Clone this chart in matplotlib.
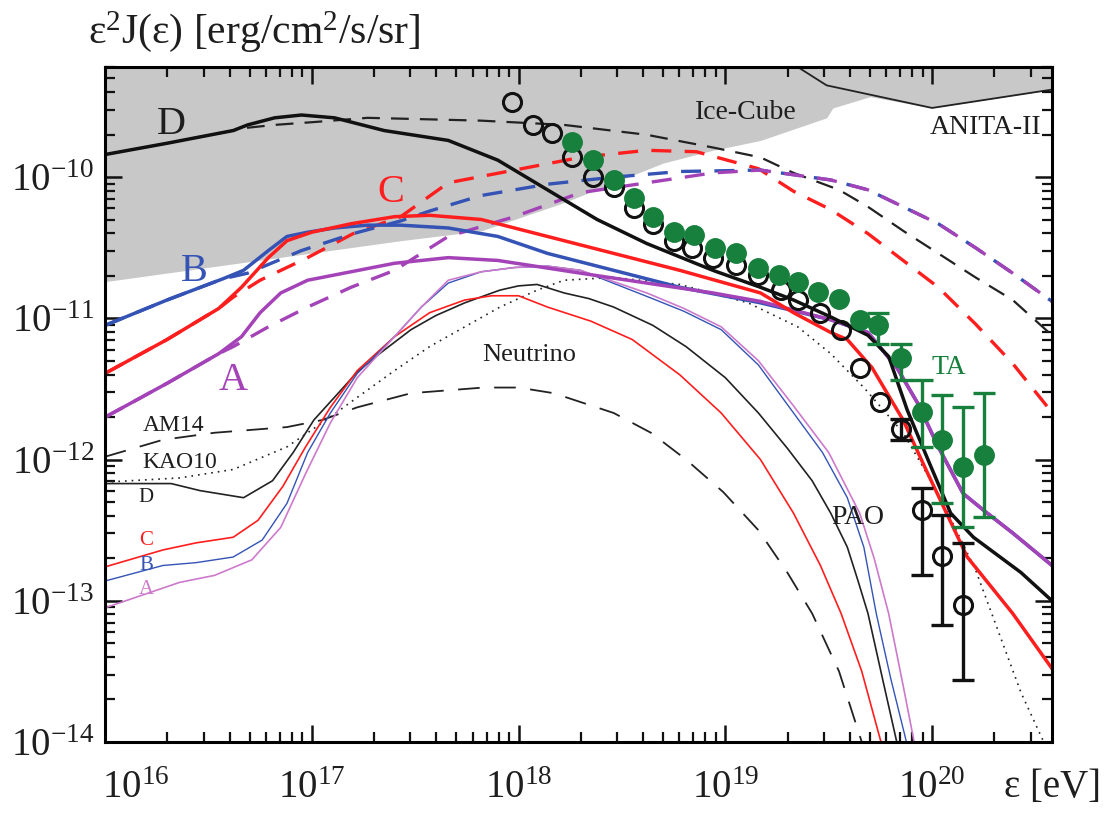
import numpy as np
import matplotlib
matplotlib.use("Agg")
import matplotlib.pyplot as plt
from matplotlib.ticker import LogLocator, NullFormatter, FuncFormatter, FixedLocator

plt.rcParams['font.family'] = ['Liberation Serif', 'DejaVu Serif']
plt.rcParams['mathtext.fontset'] = 'custom'
plt.rcParams['mathtext.rm'] = 'Liberation Serif'
plt.rcParams['mathtext.it'] = 'Liberation Serif:italic'

# ---- data: log10(energy / eV), log10(flux / erg cm^-2 s^-1 sr^-1) ----
# cosmic-ray spectra (thick solid)
d_lgE = [16.00, 16.30, 16.62, 16.69, 16.82, 16.95, 17.11, 17.35, 17.66, 17.90, 18.06,
         18.22, 18.38, 18.62, 18.94, 19.17, 19.33, 19.51, 19.69, 19.79, 19.88, 19.98,
         20.09, 20.20, 20.43, 20.58]
d_lgF = [-9.84, -9.76, -9.67, -9.63, -9.58, -9.56, -9.58, -9.67, -9.74, -9.88, -10.02,
         -10.16, -10.30, -10.47, -10.66, -10.78, -10.87, -10.99, -11.12, -11.27, -11.65, -12.00,
         -12.38, -12.55, -12.80, -13.00]
c_lgE = [16.00, 16.30, 16.55, 16.66, 16.79, 16.88, 17.00, 17.19, 17.40, 17.57, 17.82,
         18.14, 18.46, 18.78, 19.17, 19.33, 19.51, 19.59, 19.71, 19.86, 19.97, 20.07,
         20.17, 20.39, 20.58]
c_lgF = [-11.39, -11.15, -10.93, -10.78, -10.57, -10.45, -10.39, -10.33, -10.28, -10.27, -10.30,
         -10.42, -10.54, -10.66, -10.82, -10.96, -11.10, -11.15, -11.35, -11.72, -12.07, -12.38,
         -12.69, -13.09, -13.48]
b_lgE = [16.00, 16.30, 16.57, 16.67, 16.79, 16.88, 16.98, 17.11, 17.27, 17.43, 17.66,
         17.90, 18.14, 18.46, 18.78, 19.17, 19.51, 19.69, 19.83, 19.93, 20.03, 20.15,
         20.25, 20.39, 20.58]
b_lgF = [-11.05, -10.87, -10.72, -10.66, -10.52, -10.42, -10.39, -10.36, -10.34, -10.34, -10.36,
         -10.42, -10.54, -10.66, -10.78, -10.89, -11.01, -11.10, -11.35, -11.60, -11.91, -12.24,
         -12.36, -12.52, -12.75]
a_lgE = [16.00, 16.30, 16.55, 16.66, 16.75, 16.85, 16.98, 17.19, 17.40, 17.66, 17.90,
         18.30, 18.62, 18.94, 19.17, 19.51, 19.69, 19.83, 19.93, 20.03, 20.15, 20.25,
         20.39, 20.58]
a_lgF = [-11.70, -11.46, -11.25, -11.13, -10.96, -10.82, -10.73, -10.67, -10.61, -10.57, -10.59,
         -10.68, -10.75, -10.82, -10.88, -11.01, -11.10, -11.35, -11.60, -11.91, -12.24, -12.36,
         -12.52, -12.75]

# cosmogenic neutrinos, upper (thick dashed)
dd_lgE = [16.00, 16.30, 16.62, 16.69, 16.82, 17.01, 17.27, 17.82, 18.22, 18.62, 18.94,
          19.17, 19.33, 19.55, 19.69, 19.86, 20.03, 20.21, 20.39, 20.58]
dd_lgF = [-9.84, -9.76, -9.67, -9.65, -9.63, -9.61, -9.58, -9.60, -9.63, -9.70, -9.79,
          -9.86, -9.97, -10.09, -10.21, -10.38, -10.54, -10.71, -10.87, -11.12]
cd_lgE = [16.00, 16.30, 16.55, 16.62, 16.75, 16.98, 17.20, 17.43, 17.66, 17.98, 18.30,
          18.62, 18.86, 19.16, 19.33, 19.51, 19.69, 19.86, 20.03, 20.21, 20.39, 20.56]
cd_lgF = [-11.39, -11.15, -10.93, -10.85, -10.73, -10.57, -10.40, -10.28, -10.04, -9.95, -9.86,
          -9.81, -9.82, -9.94, -10.10, -10.23, -10.40, -10.59, -10.78, -11.04, -11.32, -11.63]
bd_lgE = [16.00, 16.30, 16.57, 16.69, 16.95, 17.20, 17.43, 17.57, 17.82, 18.14, 18.46,
          18.78, 19.17, 19.51, 19.69, 19.86, 20.03, 20.21, 20.39, 20.58]
bd_lgF = [-11.05, -10.87, -10.72, -10.68, -10.52, -10.40, -10.31, -10.24, -10.13, -10.05, -10.00,
          -9.96, -9.95, -10.02, -10.09, -10.21, -10.33, -10.50, -10.68, -10.88]
ad_lgE = [16.00, 16.30, 16.55, 16.62, 16.79, 16.98, 17.19, 17.40, 17.66, 17.98, 18.30,
          18.62, 18.94, 19.17, 19.51, 19.69, 19.86, 20.03, 20.21, 20.39, 20.58]
ad_lgF = [-11.70, -11.46, -11.25, -11.20, -11.06, -10.92, -10.78, -10.66, -10.42, -10.28, -10.11,
          -10.04, -9.97, -9.95, -10.02, -10.09, -10.21, -10.33, -10.50, -10.68, -10.88]

# neutrino spectra (thin solid)
dn_lgE = [16.00, 16.32, 16.46, 16.67, 16.81, 16.91, 17.01, 17.14, 17.22, 17.31, 17.48, 17.60,
          17.74, 17.91, 18.00, 18.09, 18.22, 18.34, 18.46, 18.65, 18.81, 19.00, 19.16, 19.30,
          19.42, 19.51, 19.59, 19.64, 19.69, 19.76, 19.86]
dn_lgF = [-12.17, -12.17, -12.22, -12.27, -12.15, -11.95, -11.72, -11.51, -11.38, -11.27, -11.08, -10.98,
          -10.89, -10.80, -10.77, -10.76, -10.82, -10.86, -10.92, -11.05, -11.20, -11.42, -11.67, -11.92,
          -12.15, -12.38, -12.62, -12.85, -13.09, -13.55, -14.20]
cn_lgE = [16.00, 16.28, 16.44, 16.62, 16.74, 16.86, 16.97, 17.09, 17.22, 17.40, 17.57,
          17.74, 17.87, 18.00, 18.14, 18.35, 18.55, 18.78, 18.98, 19.17, 19.33, 19.46,
          19.56, 19.66, 19.79]
cn_lgF = [-12.76, -12.64, -12.59, -12.55, -12.43, -12.19, -11.91, -11.63, -11.37, -11.13, -10.96,
          -10.87, -10.84, -10.84, -10.92, -11.02, -11.15, -11.40, -11.67, -12.00, -12.38, -12.75,
          -13.09, -13.50, -14.20]
bn_lgE = [16.00, 16.28, 16.44, 16.62, 16.76, 16.88, 16.98, 17.09, 17.22, 17.40, 17.53,
          17.66, 17.82, 17.98, 18.14, 18.30, 18.63, 18.80, 18.98, 19.16, 19.33, 19.47,
          19.59, 19.67, 19.73, 19.80, 19.91]
bn_lgF = [-12.86, -12.75, -12.73, -12.69, -12.57, -12.31, -11.95, -11.67, -11.39, -11.13, -10.92,
          -10.75, -10.67, -10.64, -10.63, -10.66, -10.85, -10.95, -11.08, -11.33, -11.67, -11.95,
          -12.27, -12.62, -13.09, -13.55, -14.20]
an_lgE = [16.00, 16.22, 16.36, 16.53, 16.71, 16.85, 16.97, 17.09, 17.22, 17.40, 17.53,
          17.66, 17.82, 17.98, 18.14, 18.30, 18.62, 18.80, 18.98, 19.16, 19.33, 19.50,
          19.65, 19.72, 19.79, 19.86, 19.94]
an_lgF = [-13.05, -12.94, -12.87, -12.82, -12.71, -12.48, -12.10, -11.74, -11.42, -11.13, -10.92,
          -10.73, -10.67, -10.64, -10.63, -10.66, -10.82, -10.93, -11.06, -11.30, -11.62, -11.95,
          -12.38, -12.70, -13.09, -13.60, -14.20]

# other neutrino models
am14_lgE = [16.00, 16.28, 16.53, 16.88, 17.05, 17.22, 17.48, 17.83, 18.00, 18.17, 18.46,
            18.64, 18.81, 18.99, 19.16, 19.30, 19.42, 19.55, 19.66, 19.70]
am14_lgF = [-11.98, -11.86, -11.81, -11.77, -11.72, -11.63, -11.53, -11.49, -11.49, -11.53, -11.67,
            -11.81, -12.00, -12.23, -12.50, -12.80, -13.09, -13.50, -14.00, -14.20]
kao_lgE = [16.00, 16.36, 16.62, 16.88, 17.05, 17.22, 17.40, 17.57, 17.74, 17.91, 18.09,
           18.22, 18.46, 18.78, 19.11, 19.35, 19.51, 19.67, 19.86, 20.03, 20.21, 20.43, 20.54, 20.57]
kao_lgF = [-12.16, -12.13, -12.07, -11.91, -11.74, -11.56, -11.37, -11.20, -11.06, -10.92, -10.80,
           -10.73, -10.71, -10.76, -10.89, -11.06, -11.25, -11.49, -11.81, -12.24, -12.78, -13.65,
           -14.00, -14.20]

# experimental limits
ice_lgE = [16.00, 17.43, 17.82, 18.22, 18.46, 18.70, 18.94, 19.17, 19.49, 19.52, 19.70]
ice_lgF = [-10.74, -10.45, -10.38, -10.18, -10.04, -9.90, -9.81, -9.74, -9.58, -9.51, -9.43]
anita_lgE = [19.35, 19.49, 20.00, 20.58]
anita_lgF = [-9.22, -9.35, -9.51, -9.38]

# measured UHECR spectra
pao_lgE = [17.97, 18.07, 18.16, 18.26, 18.36, 18.46, 18.56, 18.65, 18.75, 18.84, 18.94,
           19.05, 19.16, 19.27, 19.35, 19.46, 19.56, 19.65, 19.75, 19.85, 19.95, 20.05, 20.15]
pao_lgF = [-9.47, -9.63, -9.69, -9.86, -10.00, -10.07, -10.22, -10.33, -10.45, -10.50, -10.57,
           -10.62, -10.69, -10.80, -10.87, -10.96, -11.08, -11.35, -11.59, -11.78, -12.36, -12.68, -13.03]
pao_hi = [-11.71, -12.20, -12.39, -12.59]
pao_lo = [-11.86, -12.82, -13.17, -13.56]

ta_lgE = [18.26, 18.36, 18.46, 18.56, 18.65, 18.75, 18.85, 18.95, 19.05, 19.16, 19.26,
          19.35, 19.45, 19.55, 19.65, 19.74, 19.85, 19.95, 20.05, 20.15, 20.25]
ta_lgF = [-9.75, -9.88, -10.02, -10.15, -10.28, -10.39, -10.41, -10.50, -10.54, -10.64, -10.69,
          -10.74, -10.81, -10.86, -11.01, -11.05, -11.28, -11.66, -11.86, -12.05, -11.97]
ta_hi = [-10.96, -11.18, -11.44, -11.54, -11.63, -11.53]
ta_lo = [-11.18, -11.44, -11.91, -12.31, -12.48, -12.41]

x_decades = [16, 17, 18, 19, 20]
y_decades = [-14, -13, -12, -11, -10]

RED = '#ff1e1e'
BLUE = '#3453b5'
PURPLE = '#a443b8'
PURPLE_THIN = '#cc7acc'
GREEN = '#17803d'
TXT = '#1e1e1e'


def p(v):
    return 10 ** np.asarray(v, dtype=float)


fig = plt.figure(figsize=(11.09, 8.17), dpi=100)
ax = fig.add_axes([0.0947, 0.0918, 0.8539, 0.8262])
ax.set_xscale('log')
ax.set_yscale('log')
ax.set_xlim(1e16, 10 ** 20.58)
ax.set_ylim(1e-14, 10 ** -9.22)

# shaded excluded region (Ice-Cube / ANITA-II)
fill_x = list(ice_lgE) + [v for v in anita_lgE if v > 19.70]
fill_y = list(ice_lgF) + [f for v, f in zip(anita_lgE, anita_lgF) if v > 19.70]
ax.fill_between(p(fill_x), p(fill_y), 1e-8, color='#c8c8c8', lw=0, zorder=0)
ax.plot(p(anita_lgE), p(anita_lgF), color='#222222', lw=1.3, zorder=1)

# thin neutrino curves
ax.plot(p(am14_lgE), p(am14_lgF), color='#222222', lw=1.3, dashes=(12, 8))
ax.plot(p(kao_lgE), p(kao_lgF), color='#222222', lw=1.2, dashes=(1, 3))
ax.plot(p(dn_lgE), p(dn_lgF), color='#222222', lw=1.2)
ax.plot(p(cn_lgE), p(cn_lgF), color=RED, lw=1.2)
ax.plot(p(bn_lgE), p(bn_lgF), color=BLUE, lw=1.0)
ax.plot(p(an_lgE), p(an_lgF), color=PURPLE_THIN, lw=1.2)

# thick dashed curves
ax.plot(p(dd_lgE), p(dd_lgF), color='#222222', lw=1.6, dashes=(8, 5))
ax.plot(p(cd_lgE), p(cd_lgF), color=RED, lw=2.4, dashes=(6, 4))
ax.plot(p(bd_lgE), p(bd_lgF), color=BLUE, lw=2.4, dashes=(6, 4))
ax.plot(p(ad_lgE), p(ad_lgF), color=PURPLE, lw=2.4, dashes=(6, 4))

# thick solid curves
ax.plot(p(b_lgE), p(b_lgF), color=BLUE, lw=2.5)
ax.plot(p(a_lgE), p(a_lgF), color=PURPLE, lw=2.5)
ax.plot(p(c_lgE), p(c_lgF), color=RED, lw=2.5)
ax.plot(p(d_lgE), p(d_lgF), color='#111111', lw=2.5)

# data points
n_err = len(pao_hi)
pe = p(pao_lgE[-n_err:])
pf = p(pao_lgF[-n_err:])
ax.errorbar(pe, pf, yerr=[pf - p(pao_lo), p(pao_hi) - pf], fmt='none',
            ecolor='#111111', elinewidth=2.4, capsize=8, capthick=2.4, zorder=5)
ax.plot(p(pao_lgE), p(pao_lgF), 'o', ms=13, mfc='none', mec='#111111', mew=2.2, zorder=6)

n_err = len(ta_hi)
te = p(ta_lgE[-n_err:])
tf = p(ta_lgF[-n_err:])
ax.errorbar(te, tf, yerr=[tf - p(ta_lo), p(ta_hi) - tf], fmt='none',
            ecolor=GREEN, elinewidth=2.4, capsize=8, capthick=2.4, zorder=7)
ax.plot(p(ta_lgE), p(ta_lgF), 'o', ms=14, mfc=GREEN, mec=GREEN, zorder=8)

# labels on the plot
ax.text(p(16.32), p(-9.63), 'D', color=TXT, fontsize=29, ha='center', va='center')
ax.text(p(16.43), p(-10.67), 'B', color=BLUE, fontsize=29, ha='center', va='center')
ax.text(p(17.38), p(-10.11), 'C', color=RED, fontsize=29, ha='center', va='center')
ax.text(p(16.62), p(-11.44), 'A', color=PURPLE, fontsize=29, ha='center', va='center')
ax.text(p(19.10), p(-9.54), 'Ice-Cube', color=TXT, fontsize=20, ha='center', va='center')
ax.text(p(20.26), p(-9.65), 'ANITA-II', color=TXT, fontsize=20, ha='center', va='center')
ax.text(p(18.05), p(-11.26), 'Neutrino', color=TXT, fontsize=19, ha='center', va='center')
ax.text(p(20.08), p(-11.35), 'TA', color=GREEN, fontsize=20, ha='center', va='center')
ax.text(p(19.64), p(-12.41), 'PAO', color=TXT, fontsize=20, ha='center', va='center')
ax.text(p(16.33), p(-11.76), 'AM14', color=TXT, fontsize=17, ha='center', va='center')
ax.text(p(16.36), p(-12.02), 'KAO10', color=TXT, fontsize=17, ha='center', va='center')
ax.text(p(16.20), p(-12.27), 'D', color=TXT, fontsize=15, ha='center', va='center')
ax.text(p(16.20), p(-12.57), 'C', color=RED, fontsize=15, ha='center', va='center')
ax.text(p(16.20), p(-12.75), 'B', color=BLUE, fontsize=15, ha='center', va='center')
ax.text(p(16.20), p(-12.92), 'A', color=PURPLE_THIN, fontsize=15, ha='center', va='center')

# axes styling
for s in ax.spines.values():
    s.set_linewidth(2.2)


def dec_fmt(v, pos):
    e = int(round(np.log10(v)))
    return r'$\mathdefault{10^{%d}}$' % e


# the 10^16 label sits to the right of its tick, so it is placed by hand
ax.xaxis.set_major_locator(FixedLocator(p(x_decades[1:])))
ax.xaxis.set_minor_locator(LogLocator(base=10, subs=np.arange(2, 10), numticks=100))
ax.yaxis.set_major_locator(FixedLocator(p(y_decades)))
ax.yaxis.set_minor_locator(LogLocator(base=10, subs=np.arange(2, 10), numticks=100))
ax.xaxis.set_major_formatter(FuncFormatter(dec_fmt))
ax.yaxis.set_major_formatter(FuncFormatter(dec_fmt))
ax.xaxis.set_minor_formatter(NullFormatter())
ax.yaxis.set_minor_formatter(NullFormatter())
ax.tick_params(which='both', direction='in', top=True, right=True, colors='#111111',
               labelcolor=TXT, labelsize=28)
ax.tick_params(which='major', length=12, width=1.8, pad=8)
ax.tick_params(axis='x', which='major', pad=20)
ax.tick_params(which='minor', length=7, width=1.6)
ax.annotate(dec_fmt(p(x_decades[0]), 0), xy=(0, 0), xycoords='axes fraction',
            xytext=(-2, -20), textcoords='offset points', ha='left', va='top',
            fontsize=28, color=TXT)

fig.text(0.079, 0.962, r'ε$^2$J(ε) [erg/cm$^2$/s/sr]', fontsize=30, color=TXT,
         ha='left', va='center')
fig.text(0.993, 0.036, 'ε [eV]', fontsize=28, color=TXT, ha='right', va='center')

fig.savefig('out.png', dpi=100)
